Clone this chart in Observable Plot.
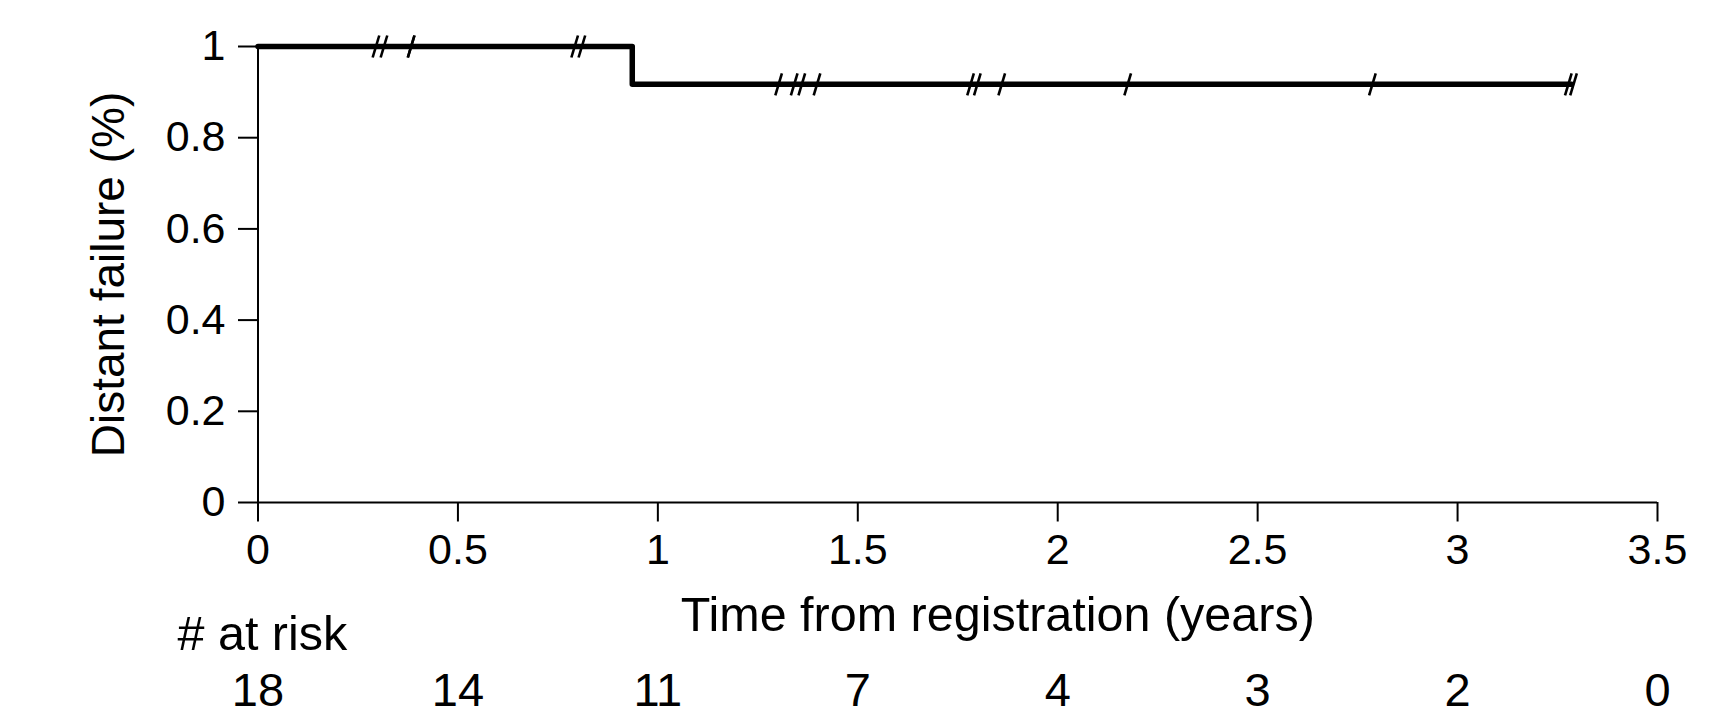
<!DOCTYPE html>
<html>
<head>
<meta charset="utf-8">
<script src="https://cdn.jsdelivr.net/npm/d3@7"></script>
<script src="https://cdn.jsdelivr.net/npm/@observablehq/plot@0.6"></script>
<style>
  html, body { margin: 0; padding: 0; background: #fff; }
  #chart svg [aria-label*="axis"] line,
  #chart svg [aria-label*="axis"] path { stroke-width: 2px; stroke: #000; }
</style>
</head>
<body>
<div id="chart"></div>
<script>
// Kaplan–Meier curve (distant failure) — step points
const curveTimes = [0, 0.936, 3.285];
const curveValues = [1, 0.917, 0.917];

// Censoring marks
const censorTimes = [0.295, 0.315, 0.383, 0.383, 0.792, 0.810,
  1.302, 1.341, 1.360, 1.398, 1.782, 1.799, 1.860, 2.175, 2.787, 3.277, 3.290];
const censorValues = [1, 1, 1, 1, 1, 1,
  0.917, 0.917, 0.917, 0.917, 0.917, 0.917, 0.917, 0.917, 0.917, 0.917, 0.917];

// Axis ticks
const xTicks = [0, 0.5, 1, 1.5, 2, 2.5, 3, 3.5];
const yTicks = [0, 0.2, 0.4, 0.6, 0.8, 1];

// Number at risk table
const riskTimes = [0, 0.5, 1, 1.5, 2, 2.5, 3, 3.5];
const riskCounts = [18, 14, 11, 7, 4, 3, 2, 0];

const xTitle = "Time from registration (years)";
const yTitle = "Distant failure (%)";
const riskTitle = "# at risk";

const curve = curveTimes.map((t, i) => ({t, s: curveValues[i]}));
const censors = censorTimes.map((t, i) => ({t, s: censorValues[i]}));
const risk = riskTimes.map((t, i) => ({t, n: riskCounts[i]}));

const slash = {
  draw(context) {
    context.moveTo(-3.3, 11);
    context.lineTo(3.3, -11);
  }
};

const font = "'Liberation Sans', Arial, Helvetica, sans-serif";

const chart = Plot.plot({
  width: 1735,
  height: 724,
  marginLeft: 257.5,
  marginRight: 78,
  marginTop: 46,
  marginBottom: 222,
  style: {fontFamily: font, fontSize: "43px", color: "#000", background: "#fff"},
  x: {domain: [0, 3.5], ticks: xTicks, tickSize: 19.5, tickPadding: 11, tickFormat: d => String(d), label: null},
  y: {domain: [0, 1], ticks: yTicks, tickSize: 19.5, tickPadding: 13, tickFormat: d => String(d), label: null},
  marks: [
    Plot.ruleY([0], {stroke: "#000", strokeWidth: 2}),
    Plot.ruleX([0], {stroke: "#000", strokeWidth: 2}),
    Plot.line(curve, {x: "t", y: "s", curve: "step-after", stroke: "#000", strokeWidth: 5.5, strokeLinejoin: "round"}),
    Plot.dot(censors, {x: "t", y: "s", symbol: slash, fill: "none", stroke: "#000", strokeWidth: 2.6}),
    Plot.text([yTitle], {frameAnchor: "left", rotate: -90, dx: -134.5, lineAnchor: "bottom", textAnchor: "middle", fontSize: 46, fill: "#000"}),
    Plot.text([xTitle], {frameAnchor: "bottom", dx: 40, dy: 128, lineAnchor: "bottom", fontSize: 48.5, fill: "#000"}),
    Plot.text([riskTitle], {frameAnchor: "bottom-left", dx: -80.5, dy: 147, textAnchor: "start", lineAnchor: "bottom", fontSize: 48.5, fill: "#000"}),
    Plot.text(risk, {x: "t", text: "n", frameAnchor: "bottom", dy: 203, lineAnchor: "bottom", fontSize: 47, fill: "#000"})
  ]
});

document.getElementById("chart").appendChild(chart);
</script>
</body>
</html>
